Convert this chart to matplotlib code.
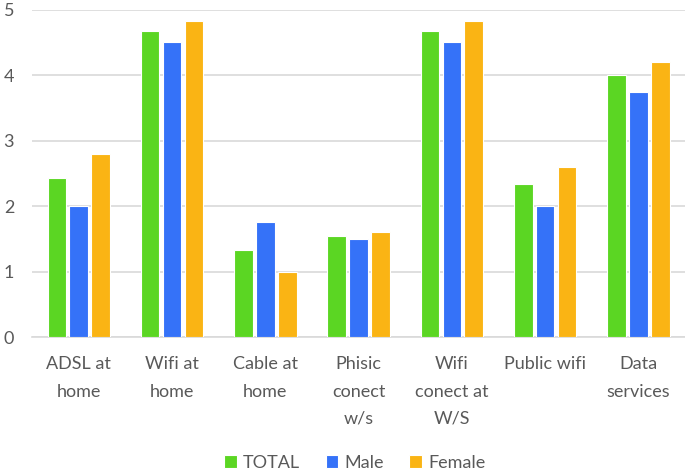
import numpy as np
import matplotlib.pyplot as plt

categories = ["ADSL at\nhome", "Wifi at\nhome", "Cable at\nhome", "Phisic\nconect\nw/s",
              "Wifi\nconect at\nW/S", "Public wifi", "Data\nservices"]
total = [2.43, 4.67, 1.33, 1.54, 4.67, 2.33, 4.0]
male = [2.0, 4.5, 1.75, 1.5, 4.5, 2.0, 3.75]
female = [2.8, 4.82, 1.0, 1.6, 4.82, 2.6, 4.2]

series = [("TOTAL", total, "#5bd623"), ("Male", male, "#3572f8"), ("Female", female, "#fab414")]

plt.rcParams['font.family'] = ['Lato', 'DejaVu Sans']
txt = "#595959"

fig = plt.figure(figsize=(6.85, 4.73), dpi=100)
ax = fig.add_axes([0.047, 0.2875, 0.953, 0.692])

x = np.arange(len(categories))
w = 0.2
for i, (name, vals, col) in enumerate(series):
    ax.bar(x + (i - 1) * (w + 0.035), vals, width=w, color=col, edgecolor="white",
           linewidth=0.8, label=name, zorder=3)

ax.set_xlim(-0.5, len(categories) - 0.5)
ax.set_ylim(0, 5)
ax.set_yticks(range(6))
ax.yaxis.grid(True, color="#d9d9d9", linewidth=1.2, zorder=0)
for s in ["top", "right", "left"]:
    ax.spines[s].set_visible(False)
ax.spines["bottom"].set_color("#d9d9d9")
ax.spines["bottom"].set_linewidth(1.2)
ax.tick_params(axis="both", length=0, labelsize=13, colors=txt)
ax.tick_params(axis="y", pad=13)
ax.set_xticks(x)
ax.set_xticklabels(categories, linespacing=1.85, va="top")
ax.tick_params(axis="x", pad=14)

leg = fig.legend(loc="center", bbox_to_anchor=(0.518, 0.022), ncol=3, frameon=False,
                 fontsize=13, handlelength=0.7, handleheight=0.7, handletextpad=0.35,
                 columnspacing=1.4, labelcolor=txt)

fig.savefig("out.png", dpi=100)
